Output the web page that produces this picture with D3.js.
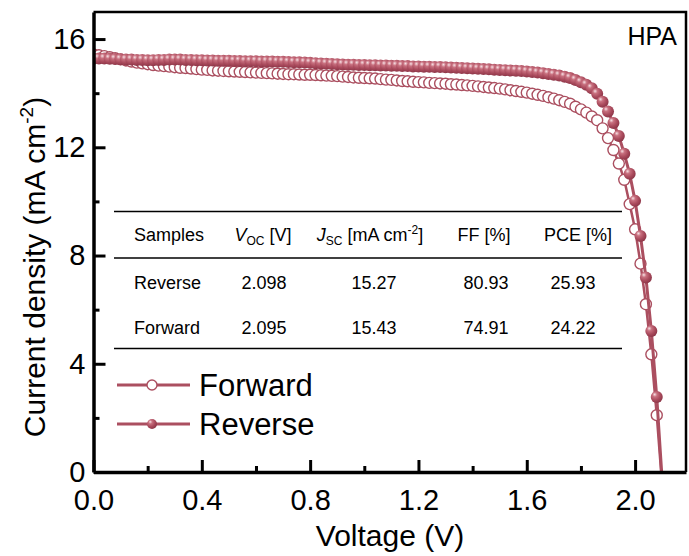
<!DOCTYPE html>
<html>
<head>
<meta charset="utf-8">
<script src="https://cdn.jsdelivr.net/npm/d3@7"></script>
<style>
  body { margin: 0; background: #fff; }
  svg { display: block; font-family: "Liberation Sans", Arial, sans-serif; }
</style>
</head>
<body>
<div id="chart"></div>
<script>
// J-V sweep, voltage in V
const voltage = [
  0.00, 0.02, 0.04, 0.06, 0.08, 0.10, 0.12, 0.14, 0.16, 0.18,
  0.20, 0.22, 0.24, 0.26, 0.28, 0.30, 0.32, 0.34, 0.36, 0.38,
  0.40, 0.42, 0.44, 0.46, 0.48, 0.50, 0.52, 0.54, 0.56, 0.58,
  0.60, 0.62, 0.64, 0.66, 0.68, 0.70, 0.72, 0.74, 0.76, 0.78,
  0.80, 0.82, 0.84, 0.86, 0.88, 0.90, 0.92, 0.94, 0.96, 0.98,
  1.00, 1.02, 1.04, 1.06, 1.08, 1.10, 1.12, 1.14, 1.16, 1.18,
  1.20, 1.22, 1.24, 1.26, 1.28, 1.30, 1.32, 1.34, 1.36, 1.38,
  1.40, 1.42, 1.44, 1.46, 1.48, 1.50, 1.52, 1.54, 1.56, 1.58,
  1.60, 1.62, 1.64, 1.66, 1.68, 1.70, 1.72, 1.74, 1.76, 1.78,
  1.80, 1.82, 1.84, 1.86, 1.88, 1.90, 1.92, 1.94, 1.96, 1.98,
  2.00, 2.02, 2.04, 2.06, 2.08, 2.10
];

// current density, mA cm-2
const reverseJ = [
  15.27, 15.28, 15.28, 15.27, 15.26, 15.25, 15.24, 15.24, 15.23, 15.23,
  15.22, 15.22, 15.23, 15.23, 15.24, 15.24, 15.24, 15.23, 15.23, 15.22,
  15.22, 15.21, 15.21, 15.20, 15.20, 15.20, 15.19, 15.19, 15.18, 15.18,
  15.18, 15.17, 15.17, 15.17, 15.16, 15.16, 15.15, 15.14, 15.14, 15.13,
  15.12, 15.11, 15.10, 15.09, 15.08, 15.07, 15.06, 15.05, 15.05, 15.04,
  15.04, 15.03, 15.03, 15.02, 15.02, 15.01, 15.01, 15.00, 15.00, 14.99,
  14.99, 14.98, 14.98, 14.97, 14.97, 14.96, 14.95, 14.94, 14.93, 14.92,
  14.91, 14.90, 14.89, 14.88, 14.87, 14.86, 14.85, 14.84, 14.83, 14.82,
  14.80, 14.78, 14.76, 14.74, 14.71, 14.68, 14.65, 14.61, 14.56, 14.49,
  14.40, 14.31, 14.18, 13.98, 13.68, 13.32, 12.90, 12.42, 11.76, 11.02,
  10.02, 8.72, 7.19, 5.21, 2.77, -0.30
];

const forwardJ = [
  15.43, 15.40, 15.37, 15.33, 15.29, 15.25, 15.21, 15.17, 15.13, 15.10,
  15.07, 15.04, 15.02, 15.00, 14.98, 14.96, 14.94, 14.93, 14.91, 14.89,
  14.87, 14.86, 14.84, 14.83, 14.82, 14.81, 14.80, 14.79, 14.78, 14.77,
  14.76, 14.75, 14.74, 14.73, 14.72, 14.71, 14.70, 14.70, 14.69, 14.68,
  14.68, 14.67, 14.66, 14.65, 14.64, 14.63, 14.61, 14.60, 14.58, 14.57,
  14.56, 14.55, 14.54, 14.52, 14.50, 14.49, 14.47, 14.45, 14.44, 14.42,
  14.41, 14.40, 14.38, 14.37, 14.36, 14.35, 14.33, 14.32, 14.30, 14.29,
  14.27, 14.25, 14.23, 14.21, 14.19, 14.17, 14.14, 14.11, 14.08, 14.05,
  14.02, 13.98, 13.94, 13.90, 13.85, 13.80, 13.74, 13.68, 13.61, 13.50,
  13.40, 13.28, 13.14, 13.00, 12.70, 12.34, 11.90, 11.40, 10.80, 9.90,
  8.97, 7.70, 6.20, 4.35, 2.10, -0.50
];

const xTicks = [0.0, 0.4, 0.8, 1.2, 1.6, 2.0];
const xMinorTicks = [0.2, 0.6, 1.0, 1.4, 1.8];
const yTicks = [0, 4, 8, 12, 16];
const yMinorTicks = [2, 6, 10, 14];

const legendLabels = ["Forward", "Reverse"];

// table
const sampleNames = ["Reverse", "Forward"];
const vocValues = ["2.098", "2.095"];
const jscValues = ["15.27", "15.43"];
const ffValues = ["80.93", "74.91"];
const pceValues = ["25.93", "24.22"];

const width = 689;
const height = 556;
const color = "#ab4f60";

const svg = d3.select("#chart")
    .append("svg")
    .attr("width", width)
    .attr("height", height);

const x = d3.scaleLinear().domain([0, 2.188]).range([93.5, 686]);
const y = d3.scaleLinear().domain([0, 17]).range([472, 12]);

const defs = svg.append("defs");
defs.append("clipPath").attr("id", "plot-clip")
    .append("rect")
    .attr("x", x.range()[0])
    .attr("y", y.range()[1])
    .attr("width", x.range()[1] - x.range()[0])
    .attr("height", y.range()[0] - y.range()[1]);

// shiny ball marker
const grad = defs.append("radialGradient")
    .attr("id", "ball")
    .attr("cx", "38%").attr("cy", "34%").attr("r", "68%")
    .attr("fx", "32%").attr("fy", "28%");
grad.append("stop").attr("offset", "0%").attr("stop-color", "#f7e1e5");
grad.append("stop").attr("offset", "28%").attr("stop-color", "#c8707f");
grad.append("stop").attr("offset", "65%").attr("stop-color", "#aa4b5d");
grad.append("stop").attr("offset", "100%").attr("stop-color", "#8c3547");

const rows = voltage.map((v, i) => ({v: v, fwd: forwardJ[i], rev: reverseJ[i]}));

const plot = svg.append("g").attr("clip-path", "url(#plot-clip)");

const line = key => d3.line().x(d => x(d.v)).y(d => y(d[key]));

// forward scan first, reverse drawn on top
plot.append("path")
    .datum(rows)
    .attr("fill", "none")
    .attr("stroke", color)
    .attr("stroke-width", 2.5)
    .attr("d", line("fwd"));
plot.append("g")
    .selectAll("circle")
    .data(rows)
    .join("circle")
    .attr("cx", d => x(d.v))
    .attr("cy", d => y(d.fwd))
    .attr("r", 5.5)
    .attr("fill", "#fff")
    .attr("stroke", color)
    .attr("stroke-width", 1.4);

plot.append("path")
    .datum(rows)
    .attr("fill", "none")
    .attr("stroke", color)
    .attr("stroke-width", 3)
    .attr("d", line("rev"));
plot.append("g")
    .selectAll("circle")
    .data(rows)
    .join("circle")
    .attr("cx", d => x(d.v))
    .attr("cy", d => y(d.rev))
    .attr("r", 6)
    .attr("fill", "url(#ball)");

// frame top + right
svg.append("path")
    .attr("fill", "none")
    .attr("stroke", "#000")
    .attr("stroke-width", 2.5)
    .attr("d", `M${x.range()[0]},${y.range()[1]}H${x.range()[1]}V${y.range()[0]}`);

// axes, ticks pointing inward
svg.append("g")
    .attr("transform", `translate(0,${y.range()[0]})`)
    .call(d3.axisBottom(x).tickValues(xTicks).tickFormat(d3.format(".1f"))
        .tickSizeInner(-12).tickSizeOuter(0).tickPadding(17));
svg.append("g")
    .attr("transform", `translate(0,${y.range()[0]})`)
    .call(d3.axisBottom(x).tickValues(xMinorTicks).tickFormat("")
        .tickSizeInner(-6).tickSizeOuter(0))
    .call(g => g.select(".domain").remove());

svg.append("g")
    .attr("transform", `translate(${x.range()[0]},0)`)
    .call(d3.axisLeft(y).tickValues(yTicks)
        .tickSizeInner(-12).tickSizeOuter(0).tickPadding(8));
svg.append("g")
    .attr("transform", `translate(${x.range()[0]},0)`)
    .call(d3.axisLeft(y).tickValues(yMinorTicks).tickFormat("")
        .tickSizeInner(-6).tickSizeOuter(0))
    .call(g => g.select(".domain").remove());

svg.selectAll(".domain").attr("stroke-width", 3.5);
svg.selectAll(".tick line").attr("stroke-width", 3);
svg.selectAll(".tick text")
    .attr("font-family", "'Liberation Sans', Arial, sans-serif")
    .attr("font-size", 29)
    .attr("fill", "#000");

// axis titles
svg.append("text")
    .attr("x", 390)
    .attr("y", 546)
    .attr("text-anchor", "middle")
    .attr("font-size", 30)
    .text("Voltage (V)");

const yTitle = svg.append("text")
    .attr("transform", "translate(45,267) rotate(-90)")
    .attr("text-anchor", "middle")
    .attr("font-size", 30);
yTitle.append("tspan").text("Current density (mA cm");
yTitle.append("tspan").attr("font-size", 19).attr("dy", -12).text("-2");
yTitle.append("tspan").attr("dy", 12).text(")");

svg.append("text")
    .attr("x", 677)
    .attr("y", 45)
    .attr("text-anchor", "end")
    .attr("font-size", 25)
    .text("HPA");

// legend
const legend = svg.append("g")
    .selectAll("g")
    .data(legendLabels)
    .join("g")
    .attr("transform", (d, i) => `translate(117,${385 + i * 39})`);
legend.append("line")
    .attr("x1", 0).attr("x2", 73)
    .attr("stroke", color)
    .attr("stroke-width", 3);
legend.append("circle")
    .attr("cx", 35)
    .attr("r", 5)
    .attr("fill", d => d === "Forward" ? "#fff" : "url(#ball)")
    .attr("stroke", d => d === "Forward" ? color : "none")
    .attr("stroke-width", 1.4);
legend.append("text")
    .attr("x", 82)
    .attr("y", 11)
    .attr("font-size", 31)
    .text(d => d);

// table
const table = svg.append("g").attr("font-size", 18).attr("fill", "#000");
[211.5, 258, 348.5].forEach(ly => {
  table.append("line")
      .attr("x1", 114).attr("x2", 622)
      .attr("y1", ly).attr("y2", ly)
      .attr("stroke", "#000")
      .attr("stroke-width", 1.6);
});

const headerY = 241;
table.append("text").attr("x", 134).attr("y", headerY).text("Samples");
const hV = table.append("text").attr("x", 263).attr("y", headerY).attr("text-anchor", "middle");
hV.append("tspan").attr("font-style", "italic").text("V");
hV.append("tspan").attr("font-size", 12).attr("dy", 4).text("OC");
hV.append("tspan").attr("dy", -4).text(" [V]");
const hJ = table.append("text").attr("x", 370).attr("y", headerY).attr("text-anchor", "middle");
hJ.append("tspan").attr("font-style", "italic").text("J");
hJ.append("tspan").attr("font-size", 12).attr("dy", 4).text("SC");
hJ.append("tspan").attr("dy", -4).text(" [mA cm");
hJ.append("tspan").attr("font-size", 12).attr("dy", -7).text("-2");
hJ.append("tspan").attr("dy", 7).text("]");
table.append("text").attr("x", 484).attr("y", headerY).attr("text-anchor", "middle").text("FF [%]");
table.append("text").attr("x", 578).attr("y", headerY).attr("text-anchor", "middle").text("PCE [%]");

const cellX = [264, 374, 486, 573];
sampleNames.forEach((name, i) => {
  const ry = 289 + i * 45;
  table.append("text").attr("x", 134).attr("y", ry).text(name);
  [vocValues[i], jscValues[i], ffValues[i], pceValues[i]].forEach((val, j) => {
    table.append("text")
        .attr("x", cellX[j])
        .attr("y", ry)
        .attr("text-anchor", "middle")
        .text(val);
  });
});
</script>
</body>
</html>
